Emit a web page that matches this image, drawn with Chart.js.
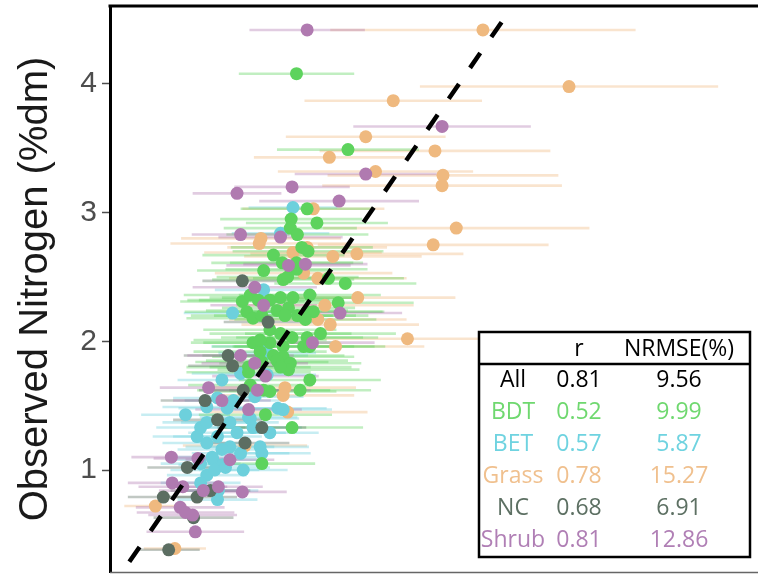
<!DOCTYPE html>
<html><head><meta charset="utf-8">
<script src="https://cdn.jsdelivr.net/npm/chart.js@4.4.1/dist/chart.umd.min.js"></script>
<style>html,body{margin:0;padding:0;background:#fff;}canvas{display:block;}</style>
</head><body>
<canvas id="c" width="758" height="574"></canvas>
<script>
// ---------- DATA ----------
const categories = ['BDT', 'BET', 'Grass', 'NC', 'Shrub'];
const yTicks = [1, 2, 3, 4];
const oneToOne = [4.48, 0.26];

const bdtX = [2.17,2.75,2.29,2.11,2.40,2.10,2.18,2.23,2.30,1.91,2.01,2.17,2.17,1.80,2.02,2.07,2.53,2.72,2.32,2.64,1.56,1.65,1.74,1.87,1.99,2.13,2.08,1.61,1.68,1.78,1.95,2.04,2.18,2.29,2.36,2.27,2.44,2.29,1.87,1.99,2.12,2.25,2.02,1.87,1.68,1.76,1.91,2.02,1.63,1.78,2.10,2.32,2.32,2.21,2.12,1.82,1.78,1.63,1.80,2.08,1.76,1.95,1.87,1.65,1.99];
const bdtY = [4.08,3.49,3.03,2.95,2.92,2.88,2.83,2.73,2.70,2.67,2.61,2.61,2.56,2.55,2.48,2.50,2.49,2.45,2.36,2.30,2.31,2.36,2.32,2.32,2.34,2.34,2.26,2.23,2.18,2.20,2.24,2.20,2.20,2.23,2.23,2.17,2.06,2.03,2.09,2.06,2.03,1.96,1.96,1.99,1.99,1.92,1.89,1.88,1.80,1.84,1.83,1.96,1.70,1.62,1.33,1.43,1.05,1.76,1.62,1.78,2.01,1.85,1.61,1.66,1.80];
const bdtErr = [0.65,0.8,0.75,0.8,0.8,0.75,0.8,0.8,0.85,0.8,0.8,0.75,0.8,0.75,0.8,0.8,0.85,0.8,0.8,0.85,0.7,0.75,0.8,0.8,0.8,0.8,0.75,0.7,0.75,0.8,0.8,0.8,0.8,0.85,0.8,0.8,0.85,0.8,0.75,0.8,0.8,0.8,0.8,0.75,0.7,0.75,0.8,0.8,0.7,0.75,0.8,0.85,0.8,0.8,0.8,0.75,0.6,0.7,0.75,0.8,0.75,0.8,0.75,0.7,0.8];

const betX = [2.13,1.99,1.80,1.45,1.84,1.76,1.80,1.33,1.28,0.92,1.16,1.46,1.63,1.84,1.96,1.87,1.76,1.78,1.28,1.16,1.09,1.23,1.16,1.09,1.29,1.05,1.09,1.16,1.42,1.50,1.68,1.42,1.54,1.33,1.54,1.39,1.65,2.02,1.70,1.34,1.57,1.25,1.37,1.22,1.28];
const betY = [3.04,2.84,2.40,2.22,1.91,1.96,1.89,1.70,1.56,1.43,1.49,1.54,1.41,1.74,1.48,1.29,1.18,1.13,1.26,1.21,1.05,1.08,0.96,0.90,0.84,1.26,1.33,1.37,1.37,1.29,1.33,1.18,1.13,1.16,1.75,1.48,1.40,1.47,1.57,1.04,1.00,1.00,1.02,1.10,0.77];
const betErr = [0.5,0.55,0.55,0.55,0.55,0.55,0.5,0.5,0.5,0.5,0.5,0.55,0.55,0.55,0.55,0.55,0.55,0.55,0.5,0.5,0.45,0.5,0.45,0.45,0.45,0.5,0.5,0.5,0.55,0.55,0.55,0.5,0.55,0.5,0.55,0.55,0.55,0.55,0.55,0.5,0.5,0.5,0.5,0.5,0.45];

const grassX = [4.27,5.24,3.26,2.95,2.54,3.73,3.82,3.81,3.06,3.97,3.71,3.42,1.77,1.75,2.36,2.29,2.13,2.58,2.85,2.25,2.41,2.86,2.49,2.41,2.55,2.61,2.04,2.02,2.07,1.59,0.58,0.80];
const grassY = [4.42,3.98,3.87,3.59,3.43,3.48,3.29,3.21,3.32,2.88,2.75,2.02,2.80,2.76,3.03,2.73,2.69,2.66,2.68,2.53,2.49,2.34,2.28,2.17,2.13,1.96,1.64,1.58,1.45,1.19,0.72,0.39];
const grassErr = [1.72,1.68,1.0,0.9,0.85,1.3,1.3,1.35,1.1,1.5,1.3,1.0,0.9,1.0,0.8,0.9,1.0,1.0,1.2,1.0,1.0,1.1,1.0,1.0,1.0,1.0,0.8,0.8,0.9,0.7,0.35,0.35];

const ncX = [1.56,1.85,1.40,1.45,1.28,1.59,1.78,0.94,1.20,1.05,0.67,1.01,0.73,1.14,1.57];
const ncY = [2.47,2.15,1.89,1.81,1.39,1.21,1.33,1.02,0.84,0.79,0.79,0.63,0.38,1.54,1.62];
const ncErr = [0.45,0.5,0.5,0.5,0.5,0.5,0.5,0.45,0.45,0.45,0.4,0.45,0.35,0.5,0.5];

const shrubX = [2.29,3.81,2.12,1.50,2.65,2.95,1.54,1.99,2.08,2.27,1.70,1.80,2.66,2.35,1.54,1.70,1.18,1.73,1.63,1.42,1.06,1.82,0.76,0.77,0.89,0.86,0.92,1.00,1.03,1.56,1.29,1.12,1.33];
const shrubY = [4.42,3.67,3.20,3.15,3.09,3.30,2.83,2.81,2.59,2.60,2.42,2.28,2.22,1.99,1.89,1.83,1.64,1.62,1.47,1.08,1.09,1.73,1.10,0.90,0.87,0.71,0.67,0.65,0.52,0.83,0.87,0.84,1.54];
const shrubErr = [0.65,1.0,0.65,0.5,0.9,0.8,0.55,0.7,0.7,0.7,0.7,0.6,0.7,0.7,0.6,0.6,0.55,0.6,0.6,0.5,0.5,0.6,0.45,0.5,0.5,0.5,0.55,0.5,0.55,0.5,0.5,0.5,0.55];

const tableRows = ['All', 'BDT', 'BET', 'Grass', 'NC', 'Shrub'];
const rValues = ['0.81', '0.52', '0.57', '0.78', '0.68', '0.81'];
const nrmseValues = ['9.56', '9.99', '5.87', '15.27', '6.91', '12.86'];

// ---------- STYLE ----------
const pointColors = {BDT:'#5dd35d', BET:'#6dd0dc', Grass:'#efb97f', NC:'#5c6e62', Shrub:'#b07ab0'};
const barColors = {BDT:'rgba(93,211,93,0.38)', BET:'rgba(109,208,220,0.38)', Grass:'rgba(239,185,127,0.38)', NC:'rgba(92,110,98,0.38)', Shrub:'rgba(176,122,176,0.38)'};
const textColors = {All:'#000000', BDT:'#6fd86f', BET:'#6fd3e0', Grass:'#f0c08e', NC:'#5d7063', Shrub:'#b07fb5'};

const series = {
  BDT:{x:bdtX, y:bdtY, e:bdtErr, order:3},
  BET:{x:betX, y:betY, e:betErr, order:4},
  Grass:{x:grassX, y:grassY, e:grassErr, order:5},
  NC:{x:ncX, y:ncY, e:ncErr, order:2},
  Shrub:{x:shrubX, y:shrubY, e:shrubErr, order:1}
};
const toPts = (xs, ys) => xs.map((x, i) => ({x: x, y: ys[i]}));

const datasets = categories.map(c => ({
  label: c,
  data: toPts(series[c].x, series[c].y),
  backgroundColor: pointColors[c],
  borderWidth: 0,
  pointRadius: 6.5,
  pointHoverRadius: 6.5,
  order: series[c].order
}));
datasets.push({
  type: 'line', label: '1:1',
  data: oneToOne.map(v => ({x: v, y: v})),
  borderColor: '#000', borderWidth: 4.5, borderDash: [18, 19.5],
  pointRadius: 0, fill: false, order: 0
});

const errorBars = {
  id: 'errorBars',
  beforeDatasetsDraw(chart) {
    const {ctx, chartArea: a, scales: {x, y}} = chart;
    ctx.save();
    ctx.beginPath(); ctx.rect(a.left, a.top, a.right - a.left, a.bottom - a.top); ctx.clip();
    ctx.lineWidth = 2.6; ctx.lineCap = 'butt';
    const drawOrder = categories.slice().sort((p, q) => series[q].order - series[p].order);
    drawOrder.forEach(c => {
      const s = series[c];
      ctx.strokeStyle = barColors[c];
      s.x.forEach((xv, i) => {
        const py = y.getPixelForValue(s.y[i]);
        ctx.beginPath();
        ctx.moveTo(x.getPixelForValue(xv - s.e[i]), py);
        ctx.lineTo(x.getPixelForValue(xv + s.e[i]), py);
        ctx.stroke();
      });
    });
    ctx.restore();
  }
};

const frameAndTable = {
  id: 'frameAndTable',
  afterDraw(chart) {
    const {ctx, chartArea: a, width} = chart;
    ctx.save();
    ctx.strokeStyle = '#000'; ctx.lineWidth = 3;
    ctx.beginPath(); ctx.moveTo(a.left - 1.5, a.top); ctx.lineTo(width, a.top); ctx.stroke();
    ctx.strokeStyle = '#666'; ctx.lineWidth = 1.5;
    ctx.beginPath(); ctx.moveTo(a.left, a.bottom + 0.5); ctx.lineTo(width, a.bottom + 0.5); ctx.stroke();
    const L = 479, T = 332, R = 750, B = 557, S = 364;
    ctx.fillStyle = '#fff'; ctx.fillRect(L, T, R - L, B - T);
    ctx.strokeStyle = '#000'; ctx.lineWidth = 2.5;
    ctx.strokeRect(L, T, R - L, B - T);
    ctx.beginPath(); ctx.moveTo(L, S); ctx.lineTo(R, S); ctx.stroke();
    ctx.font = '23px "Open Sans"';
    ctx.textAlign = 'center'; ctx.textBaseline = 'middle';
    const c1 = 513, c2 = 579, c3 = 679;
    ctx.fillStyle = '#000';
    ctx.fillText('r', c2, 349);
    ctx.fillText('NRMSE(%)', c3, 349);
    tableRows.forEach((r, i) => {
      const yy = 380 + i * 32;
      ctx.fillStyle = textColors[r];
      ctx.fillText(r, c1, yy);
      ctx.fillText(rValues[i], c2, yy);
      ctx.fillText(nrmseValues[i], c3, yy);
    });
    ctx.restore();
  }
};

new Chart(document.getElementById('c'), {
  type: 'scatter',
  data: {datasets},
  options: {
    responsive: false, animation: false, devicePixelRatio: 1,
    layout: {autoPadding: false, padding: {top: 6, bottom: 2, left: 0, right: 0}},
    plugins: {legend: {display: false}, tooltip: {enabled: false}},
    events: [],
    scales: {
      x: {type: 'linear', display: false, min: 0.069, max: 7.369},
      y: {
        type: 'linear', min: 0.2075, max: 4.606,
        afterBuildTicks: s => { s.ticks = yTicks.map(v => ({value: v})); },
        afterFit: s => { s.width = 110; s.paddingTop = 0; s.paddingBottom = 0; },
        ticks: {color: '#4d4d4d', font: {family: 'Liberation Sans', size: 30}, padding: 5},
        grid: {display: true, drawOnChartArea: false, drawTicks: true, tickLength: 8, tickColor: '#4d4d4d', tickWidth: 1.5, color: '#4d4d4d'},
        border: {display: true, color: '#000', width: 3},
        title: {display: true, text: 'Observed Nitrogen (%dm)', color: '#1a1a1a', font: {family: 'Liberation Sans', size: 40}, padding: {top: 12, bottom: 0}}
      }
    }
  },
  plugins: [errorBars, frameAndTable]
});
</script>
</body></html>
